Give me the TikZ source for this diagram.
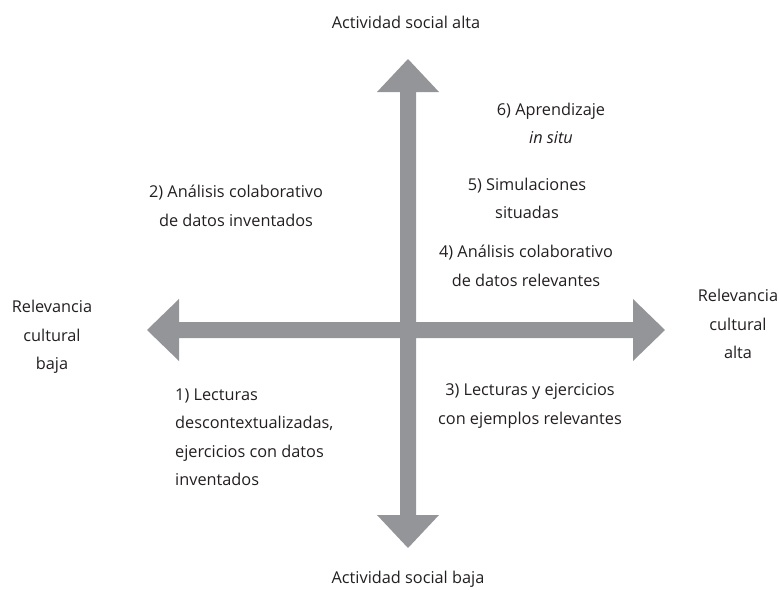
\documentclass[tikz,border=0pt]{standalone}
\usepackage{fontspec}
\setmainfont{Open Sans}
\definecolor{axisgray}{HTML}{939598}
\definecolor{txt}{HTML}{231F20}
\begin{document}
\begin{tikzpicture}[x=1pt,y=-1pt,
  lbl/.style={inner sep=0pt,align=center,text=txt,font=\fontsize{16.3}{28.5}\selectfont},
  lbll/.style={lbl,align=left}]
\useasboundingbox (0,0) rectangle (779,589);
% axis cross with four arrow heads
\coordinate (c) at (408,330);
\fill[axisgray]
  (400,92) -- (377,92) -- (408,59) -- (439,92) -- (416,92) -- (416,322)
  -- (633,322) -- (633,299) -- (665,330) -- (633,361) -- (633,338) -- (416,338)
  -- (416,515) -- (439,515) -- (408,548) -- (377,515) -- (400,515) -- (400,338)
  -- (179,338) -- (179,361) -- (147,330) -- (179,299) -- (179,322) -- (400,322) -- cycle;
% axis labels
\node[lbl] (top) at (406,22) {Actividad social alta};
\node[lbl] (bottom) at (408,579) {Actividad social baja};
\node[lbl] (left) at (52,337) {Relevancia\\cultural\\baja};
\node[lbl] (right) at (738,324) {Relevancia\\cultural\\alta};
% quadrant entries
\node[lbl] (q6) at (551,123.5) {6) Aprendizaje\\\textit{in situ}};
\node[lbl] (q5) at (527,198.5) {5) Simulaciones\\situadas};
\node[lbl] (q4) at (526,266) {4) Análisis colaborativo\\de datos relevantes};
\node[lbl] (q2) at (236,206) {2) Análisis colaborativo\\de datos inventados};
\node[lbl] (q3) at (530,406) {3) Lecturas y ejercicios\\con ejemplos relevantes};
\node[lbll,anchor=west] (q1) at (175,437.5) {1) Lecturas\\descontextualizadas,\\ejercicios con datos\\inventados};
\end{tikzpicture}
\end{document}
